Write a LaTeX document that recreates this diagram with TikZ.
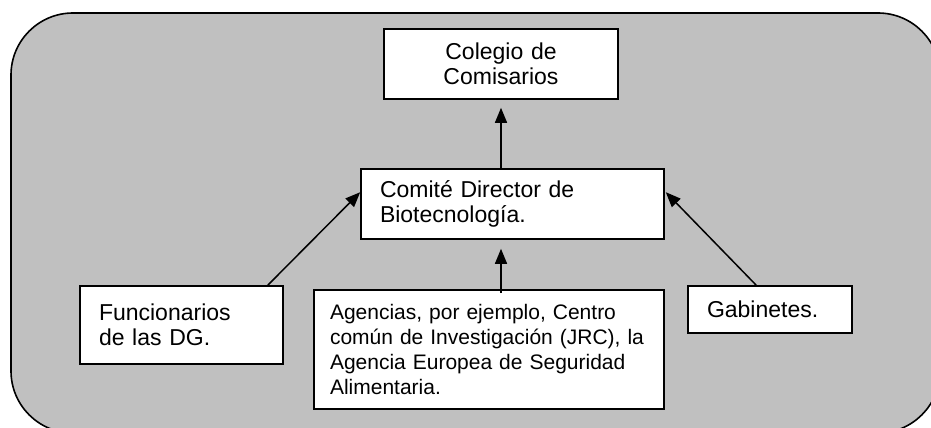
\documentclass[tikz,border=0pt]{standalone}
\usepackage{fontspec}
\setmainfont{Liberation Sans}
\usetikzlibrary{arrows.meta}
\definecolor{bgsilver}{HTML}{C0C0C0}
\tikzset{
  box/.style={draw=black, fill=white, line width=1.6pt, inner xsep=19pt, inner ysep=0pt,
    align=left, font=\fontsize{23}{25}\selectfont},
  smallbox/.style={box, inner xsep=16pt, font=\fontsize{21}{25}\selectfont},
  arr/.style={line width=1.5pt, -{Triangle[length=15pt,width=12pt]}},
  outer/.style={draw=black, fill=bgsilver, line width=1.6pt, rounded corners=62pt}
}
\begin{document}
\begin{tikzpicture}[x=1pt,y=-1pt]
\normalbaselineskip=25pt
\useasboundingbox (0,0) rectangle (931,428);
\begin{scope}
\clip (0,0) rectangle (931,428);
\draw[outer] (11,13) rectangle (940,433);
\end{scope}
\node[box, align=center, text width=196pt, minimum height=70pt] (colegio) at (501,64) {Colegio de\\Comisarios};
\node[box, text width=265pt, minimum height=70pt] (comite) at (512.5,204) {Comité Director de\\Biotecnología.};
\node[box, text width=165pt, minimum height=78pt] (func) at (181.5,325) {Funcionarios\\de las DG.};
\node[smallbox, text width=318pt, minimum height=119pt] (agen) at (489,349.5) {Agencias, por ejemplo, Centro\\común de Investigación (JRC), la\\Agencia Europea de Seguridad\\Alimentaria.};
\node[box, text width=126pt, minimum height=47pt] (gab) at (770,309.5) {Gabinetes.};
\draw[arr, shorten >=8pt] (colegio.south |- comite.north) -- (colegio.south);
\draw[arr, shorten >=9pt] ([yshift=-4pt]colegio.south |- agen.north) -- (colegio.south |- comite.south);
\draw[arr] ([xshift=-16pt]func.north east) -- ([yshift=-24pt]comite.north west);
\draw[arr] ([xshift=69pt]gab.north west) -- ([yshift=-24pt,xshift=1pt]comite.north east);
\end{tikzpicture}
\end{document}
